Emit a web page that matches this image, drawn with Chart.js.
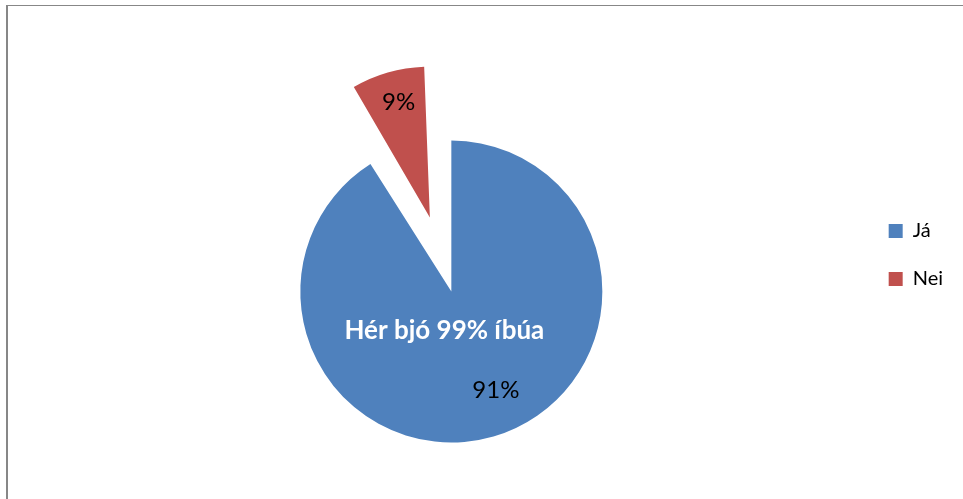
<!DOCTYPE html>
<html>
<head>
<meta charset="utf-8">
<script src="https://cdn.jsdelivr.net/npm/chart.js@4/dist/chart.umd.min.js"></script>
<style>
  html, body { margin: 0; padding: 0; background: #fff; overflow: hidden; }
  #wrap { position: relative; width: 963px; height: 499px; }
  #frame { position: absolute; left: 6px; top: 5px; width: 1000px; height: 600px;
           border-left: 2px solid #878787; border-top: 1px solid #878787; }
  #c { position: absolute; left: 0; top: 0; }
</style>
</head>
<body>
<div id="wrap">
  <div id="frame"></div>
  <canvas id="c" width="963" height="499"></canvas>
</div>
<script>
// ---- data ----
const categories = ['Já', 'Nei'];
const shares = [91, 9];
const valueLabels = ['91%', '9%'];
const noteText = 'Hér bjó 99% íbúa';

const colors = ['#4F81BD', '#C0504D'];
const R = 151;           // pie radius (px)
const explode = 77;      // explosion distance of "Nei" (px)

// keep the exploded slice the same radius as the rest
const fixExplodedRadius = {
  id: 'fixExplodedRadius',
  afterDatasetsUpdate(chart) {
    const meta = chart.getDatasetMeta(0);
    meta.data.forEach((arc, i) => {
      const off = (chart.data.datasets[0].offset[i] || 0) / 4;
      const circ = arc.endAngle - arc.startAngle;
      const fix = 1 - Math.sin(Math.min(Math.PI, circ));
      arc.outerRadius = R - off * fix;
    });
  }
};

const labelPos = { dist: [0.72, 0.79], shiftDeg: [-8, 1] };

const pieLabels = {
  id: 'pieLabels',
  afterDatasetsDraw(chart) {
    const ctx = chart.ctx;
    const meta = chart.getDatasetMeta(0);
    const ds = chart.data.datasets[0];
    ctx.save();
    ctx.textAlign = 'center';
    ctx.textBaseline = 'middle';
    meta.data.forEach((arc, i) => {
      const mid = (arc.startAngle + arc.endAngle) / 2;
      const off = (ds.offset[i] || 0) / 4;
      const cx = arc.x + Math.cos(mid) * off;
      const cy = arc.y + Math.sin(mid) * off;
      const a = mid + labelPos.shiftDeg[i] * Math.PI / 180;
      const d = R * labelPos.dist[i];
      ctx.fillStyle = '#000';
      ctx.font = '24px Lato';
      ctx.fillText(valueLabels[i], cx + Math.cos(a) * d, cy + Math.sin(a) * d);
    });
    const a0 = meta.data[0];
    ctx.fillStyle = '#fff';
    ctx.font = 'bold 26px Lato';
    ctx.fillText(noteText, a0.x - 7, a0.y + 39);
    ctx.restore();
  }
};

new Chart(document.getElementById('c'), {
  type: 'pie',
  data: {
    labels: categories,
    datasets: [{
      data: shares,
      backgroundColor: colors,
      borderWidth: 0,
      offset: [0, explode * 4],
      radius: R,
      clip: false
    }]
  },
  options: {
    responsive: false,
    animation: false,
    events: [],
    layout: { padding: { left: 42, right: 10, top: 193, bottom: 109 } },
    plugins: {
      tooltip: { enabled: false },
      legend: {
        position: 'right',
        align: 'start',
        labels: {
          boxWidth: 14,
          boxHeight: 14,
          padding: 28,
          color: '#000',
          font: { family: 'Lato', size: 20 }
        }
      }
    }
  },
  plugins: [fixExplodedRadius, pieLabels]
});
</script>
</body>
</html>
